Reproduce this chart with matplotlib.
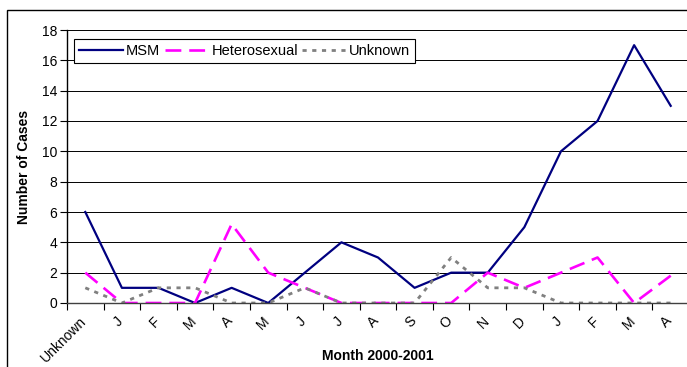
import matplotlib
matplotlib.use("Agg")
import matplotlib.pyplot as plt
from matplotlib.patches import Rectangle

months = ["Unknown", "J", "F", "M", "A", "M", "J", "J", "A", "S", "O", "N", "D",
          "J", "F", "M", "A"]
msm = [6, 1, 1, 0, 1, 0, 2, 4, 3, 1, 2, 2, 5, 10, 12, 17, 13]
hetero = [2, 0, 0, 0, 5.2, 2, 1, 0, 0, 0, 0, 2, 1, 2, 3, 0, 1.8]
unknown = [1, 0, 1, 1, 0, 0, 1, 0, 0, 0, 3, 1, 1, 0, 0, 0, 0]

plt.rcParams['font.family'] = ['Liberation Sans', 'DejaVu Sans']

fig = plt.figure(figsize=(6.87, 3.67), dpi=100)
ax = fig.add_axes([67 / 687, 64 / 367, 622 / 687, 273 / 367])

# outer chart border (cut off on the right and bottom)
fig.patches.append(Rectangle((7 / 687, -0.1), 1.1, (367 - 10) / 367 + 0.1,
                             transform=fig.transFigure, fill=False,
                             edgecolor='black', linewidth=1.0, clip_on=False))

x = range(len(months))
ax.plot(x, msm, color='#000080', linewidth=1.6, label='MSM')
ax.plot(x, hetero, color='#FF00FF', linewidth=1.9, dashes=(6, 3), label='Heterosexual')
ax.plot(x, unknown, color='#808080', linewidth=2.0, dashes=(1.5, 2.0), label='Unknown')

ax.set_xlim(-0.5, len(months) - 0.5)
ax.set_ylim(0, 18)
ax.set_yticks(range(0, 19, 2))
# label anchors sit a little left of the category centres (tick marks hidden)
ax.set_xticks([i - 0.16 for i in x])
ax.set_xticklabels(months, rotation=45, ha='right', va='top', fontsize=10,
                   rotation_mode='anchor')
ax.set_xticks([i - 0.5 for i in range(len(months) + 1)], minor=True)
ax.tick_params(axis='x', which='major', length=0, pad=8)
ax.tick_params(axis='x', which='minor', length=5, width=0.8, direction='out')
ax.tick_params(axis='y', length=5, width=0.8, direction='out', labelsize=10, pad=2)

ax.grid(axis='y', color='black', linewidth=0.7)
ax.set_axisbelow(True)
for s in ['top', 'right']:
    ax.spines[s].set_visible(False)
ax.spines['left'].set_linewidth(1.0)
ax.spines['bottom'].set_linewidth(1.0)
ax.spines['bottom'].set_color('#404040')

ax.set_ylabel('Number of Cases', fontsize=10, fontweight='bold', labelpad=8)
ax.set_xlabel('Month 2000-2001', fontsize=10, fontweight='bold')
ax.xaxis.set_label_coords(0.5, -0.17)

leg = ax.legend(loc='upper left', ncol=3, fontsize=10.5, frameon=True, fancybox=False,
                edgecolor='black', framealpha=1, handlelength=3.0, handletextpad=0.2,
                columnspacing=0.3, borderpad=0.35, bbox_to_anchor=(0.0, 0.995))
leg.get_frame().set_linewidth(0.8)

fig.savefig('out.png', dpi=100)
